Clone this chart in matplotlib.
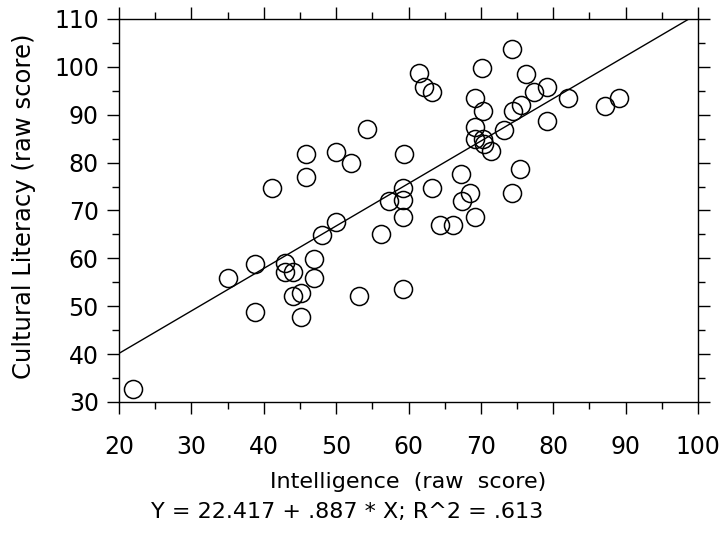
import numpy as np
import matplotlib
matplotlib.use("Agg")
import matplotlib.pyplot as plt
from matplotlib.ticker import MultipleLocator

# === Data ===
intelligence = [22.0, 35.1, 38.8, 38.8, 41.1, 42.9, 42.9, 44.1, 44.0, 45.2,
                45.2, 45.9, 45.9, 46.9, 46.9, 48.1, 50.0, 50.0, 52.0, 53.1,
                54.2, 56.2, 57.3, 59.4, 59.3, 59.3, 59.3, 59.3, 61.5, 62.1,
                63.3, 63.2, 64.4, 66.2, 67.3, 67.4, 68.5, 69.2, 69.2, 69.2,
                69.2, 70.3, 70.2, 70.3, 70.5, 71.4, 73.2, 74.3, 74.4, 74.3,
                75.5, 75.4, 76.2, 77.3, 79.1, 79.1, 82.1, 87.2, 89.1]
literacy = [32.7, 56.0, 58.8, 48.7, 74.8, 59.0, 57.2, 57.2, 52.1, 52.8,
            47.7, 81.9, 77.1, 59.9, 56.0, 64.9, 67.7, 82.2, 79.9, 52.1,
            87.0, 65.0, 72.0, 81.9, 74.8, 72.2, 68.7, 53.7, 98.7, 95.9,
            94.8, 74.8, 67.0, 67.0, 77.6, 72.0, 73.7, 68.7, 93.6, 87.5,
            84.9, 84.9, 99.7, 90.8, 83.8, 82.5, 86.8, 103.7, 90.8, 73.7,
            92.0, 78.7, 98.5, 94.7, 95.7, 88.7, 93.6, 91.8, 93.6]

intercept = 22.417
slope = 0.887
r_squared = 0.613

x_ticks = [20, 30, 40, 50, 60, 70, 80, 90, 100]
y_ticks = [30, 40, 50, 60, 70, 80, 90, 100, 110]

# === Plot ===
fig = plt.figure(figsize=(7.25, 5.33), dpi=100)
ax = fig.add_axes([119 / 725, 1 - 402 / 533, (698 - 119) / 725, (402 - 19) / 533])

ax.plot(intelligence, literacy, "o", ms=13, mfc="none", mec="black", mew=1.1)

line_x = np.array([x_ticks[0], x_ticks[-1]])
ax.plot(line_x, intercept + slope * line_x, color="black", lw=1.0)

ax.set_xlim(x_ticks[0], x_ticks[-1])
ax.set_ylim(y_ticks[0], y_ticks[-1])
ax.set_xticks(x_ticks)
ax.set_yticks(y_ticks)
ax.xaxis.set_minor_locator(MultipleLocator(5))
ax.yaxis.set_minor_locator(MultipleLocator(5))
ax.tick_params(which="both", direction="out", top=True, right=True, width=1.0)
ax.tick_params(which="major", length=8.5, labelsize=17, pad=6)
ax.tick_params(which="minor", length=5)
ax.tick_params(axis="x", which="major", pad=15)
for s in ax.spines.values():
    s.set_linewidth(1.0)

# axis labels placed where the reference has them
ax.set_xlabel("Intelligence  (raw  score)", fontsize=16, va="center")
ax.xaxis.set_label_coords(0.5, -(482 - 402) / 383)
ax.set_ylabel("Cultural Literacy (raw score)", fontsize=17.5, va="center")
ax.yaxis.set_label_coords((24 - 119) / 579, 0.51)

fig.text(347 / 725, 1 - 512 / 533,
         f"Y = {intercept:.3f} + {slope:.3f} * X; R^2 = {r_squared:.3f}".replace("0.", "."),
         ha="center", va="center", fontsize=16)

fig.savefig("out.png", dpi=100)
